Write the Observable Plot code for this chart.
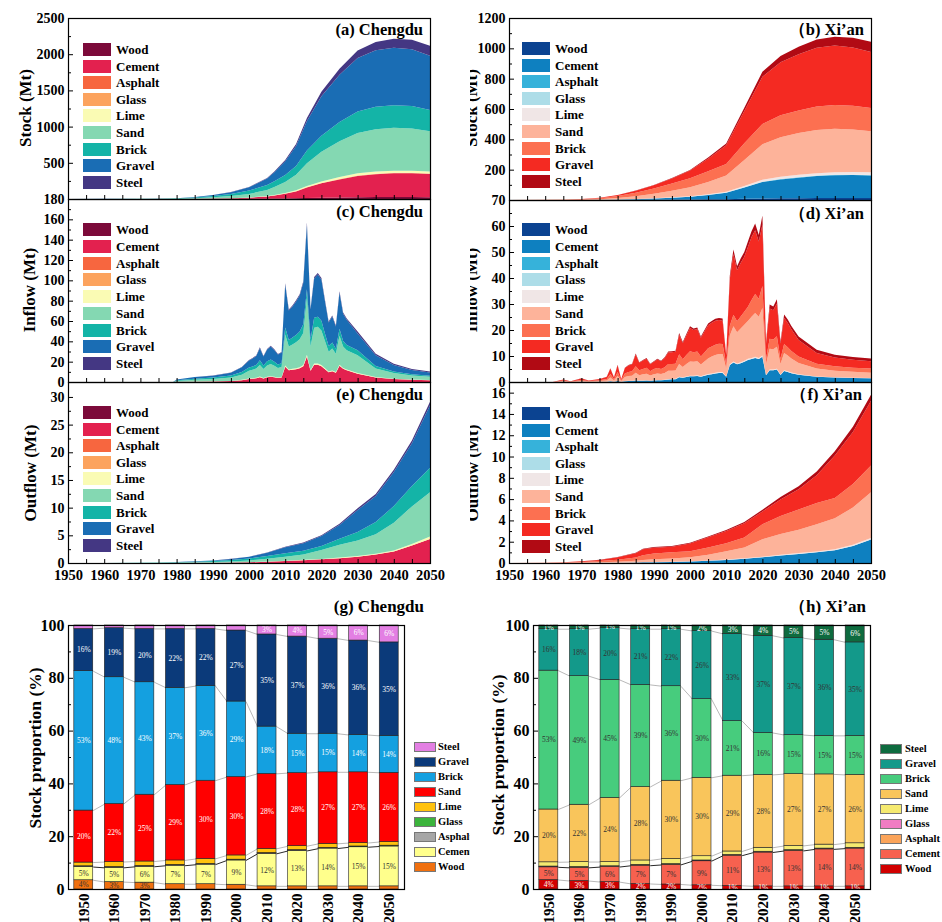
<!DOCTYPE html>
<html><head><meta charset="utf-8">
<script src="https://cdn.jsdelivr.net/npm/d3@7"></script>
<script src="https://cdn.jsdelivr.net/npm/@observablehq/plot@0.6"></script>
<style>
body{margin:0;background:#fff;}
#fig{position:relative;width:942px;height:922px;overflow:hidden;background:#fff;font-family:"Liberation Serif","Times New Roman",serif;font-weight:bold;color:#000;}
</style></head><body><div id="fig"></div>
<script>
// ---------------- categories & colours ----------------
const materials = ["Wood","Cement","Asphalt","Glass","Lime","Sand","Brick","Gravel","Steel"];
const colorsChengduArea = ["#7c0a3a","#e3214f","#f7663f","#fca35e","#fafbb4","#84d8b2","#14b4a7","#1a6db4","#443783"];
const colorsXianArea    = ["#0b4391","#0e80c0","#36b2da","#addde8","#f0e6e6","#fdb39a","#fc7051","#f42a22","#b10a14"];
const colorsChengduBar  = ["#f0700f","#ffff8c","#a6a6a6","#3cb43c","#ffc20e","#ff0000","#14a0e0","#0b3a7a","#e37fe3"];
const colorsXianBar     = ["#d10000","#f7614f","#fba45a","#f07cc3","#f5ea70","#f9c55b","#47cc7d","#13998a","#0e6b3f"];

// ---------------- (a) Chengdu stock, Mt ----------------
const stockYearsC = [1950,1960,1970,1975,1980,1985,1990,1995,2000,2005,2007,2010,2013,2016,2020,2025,2030,2035,2040,2045,2050];
const stockC_Wood    = [0.04,0.06,0.1,0.14,0.24,0.56,1.1,1.8,3.0,4.3,5.2,6.5,9.1,13.4,17.8,21.6,24.6,26.0,26.6,26.4,25.4];
const stockC_Cement  = [0.05,0.11,0.24,0.39,0.84,2.0,4.1,7.8,15.2,31.0,43.6,66.4,96.0,145.5,198.3,249.3,293.2,315.7,327.8,329.0,319.4];
const stockC_Asphalt = [0,0,0.01,0.01,0.02,0.06,0.1,0.2,0.3,0.6,0.8,1.1,1.5,2.2,3.0,3.6,4.1,4.3,4.4,4.4,4.2];
const stockC_Glass   = [0,0,0,0.01,0.01,0.03,0.06,0.1,0.2,0.3,0.4,0.5,0.8,1.1,1.5,1.8,2.1,2.2,2.2,2.2,2.1];
const stockC_Lime    = [0.01,0.04,0.07,0.1,0.2,0.5,1.0,1.7,2.6,4.6,6.1,8.6,11.9,17.2,22.2,27.0,30.8,30.4,28.8,29.7,29.6];
const stockC_Sand    = [0.2,0.44,1.0,1.6,3.4,8.2,16.3,28.2,49.0,84.2,109.1,153.4,214.3,313.0,410.0,493.2,555.6,585.9,593.6,583.0,554.1];
const stockC_Brick   = [0.53,0.96,1.7,2.4,4.4,10.2,19.7,30.6,47.2,67.6,79.2,96.7,123.1,177.0,220.5,266.4,299.3,311.4,312.3,309.1,296.1];
const stockC_Gravel  = [0.16,0.37,0.81,1.3,2.7,6.1,11.9,23.1,44.4,89.0,124.9,188.5,274.4,406.4,544.6,654.3,738.0,779.0,793.0,783.2,748.7];
const stockC_Steel   = [0.01,0.02,0.05,0.08,0.16,0.36,0.7,1.5,3.1,7.7,10.8,18.4,28.7,43.7,62.2,82.8,102.5,115.1,126.3,133.0,135.4];

// ---------------- (b) Xi'an stock, Mt ----------------
const stockYearsX = [1950,1960,1965,1970,1975,1980,1985,1990,1995,2000,2005,2010,2015,2020,2025,2030,2035,2040,2045,2050];
const stockX_Wood    = [0.02,0.06,0.12,0.2,0.37,0.69,1.24,1.88,2.5,3.17,4.2,5.2,7.9,10.2,11.4,12.1,12.7,12.9,12.8,12.5];
const stockX_Cement  = [0.02,0.1,0.21,0.4,0.95,2.28,4.45,7.33,12.1,18.0,28.7,42.5,74.1,108.3,124.5,135.3,144.9,150.6,151.3,149.1];
const stockX_Asphalt = [0,0,0.01,0.01,0.03,0.07,0.12,0.2,0.3,0.4,0.6,0.7,1.2,1.7,1.9,2.0,2.1,2.2,2.1,2.1];
const stockX_Glass   = [0,0,0,0.01,0.02,0.03,0.06,0.1,0.15,0.2,0.3,0.4,0.6,0.8,1.0,1.0,1.1,1.1,1.1,1.0];
const stockX_Lime    = [0.01,0.04,0.07,0.11,0.25,0.56,1.15,1.98,2.6,3.17,4.06,4.85,8.5,12.7,14.7,16.2,16.4,16.1,17.1,17.7];
const stockX_Sand    = [0.1,0.43,0.92,1.7,3.9,9.17,17.7,29.3,43.0,58.8,81.6,107.1,171.4,233.5,260.3,274.7,284.6,286.2,280.1,270.1];
const stockX_Brick   = [0.26,0.97,1.87,3.13,6.2,12.77,23.1,35.4,47.5,59.0,70.8,77.2,110.4,134.5,145.4,149.5,155.5,157.1,157.7,154.4];
const stockX_Gravel  = [0.08,0.36,0.75,1.37,3.06,6.96,13.2,21.4,34.4,51.1,82.4,123.1,212.9,311.3,348.7,370.7,386.2,391.7,383.8,369.2];
const stockX_Steel   = [0.01,0.03,0.05,0.07,0.19,0.46,0.87,1.39,2.5,4.16,7.4,11.9,21.4,33.0,41.8,48.5,54.5,58.1,63.1,66.8];

// ---------------- (c) Chengdu inflow, Mt ----------------
const inYearsC = [1950,1979,1980,1985,1990,1995,1998,2000,2001,2002,2003,2004,2005,2006,2007,2008,2009,2010,2011,2012,2013,2014,2015,2016,2017,2018,2019,2020,2021,2022,2023,2024,2025,2026,2027,2030,2035,2040,2045,2050];
const inC_Cement = [0,0,0.15,0.3,0.5,0.9,1.8,3.0,3.3,3.7,4.7,3.5,4.6,5.1,4.6,4.0,4.4,15.0,11.5,12.0,12.5,13.5,15.5,25.0,11.0,17.0,17.0,15.5,12.5,9.5,10.5,9.0,16.0,13.0,11.5,8.2,4.5,3.0,2.2,1.8];
const inC_Lime   = [0,0,0.05,0.1,0.12,0.2,0.3,0.4,0.45,0.5,0.6,0.5,0.6,0.65,0.6,0.5,0.55,1.2,0.9,1.0,1.0,1.1,1.2,1.8,0.9,1.3,1.3,1.2,1.0,0.8,0.85,0.75,1.0,0.85,0.8,0.6,0.35,0.25,0.2,0.15];
const inC_Sand   = [0,0,0.9,1.8,2.3,3.3,5.0,7.6,8.2,9.0,11.5,8.8,11.0,12.0,10.8,9.2,9.8,30.5,22.5,24.0,25.5,27.5,31.5,56.0,23.0,35.0,36.0,34.0,26.5,19.5,21.5,18.0,28.5,21.0,19.0,17.5,8.5,5.5,4.0,3.2];
const inC_Brick  = [0,0,0.55,1.1,1.4,1.9,2.7,3.2,3.4,3.6,4.5,3.4,4.2,4.5,4.0,3.4,3.6,7.0,6.5,6.8,7.2,7.6,8.5,8.5,7.0,10.0,10.0,9.5,7.5,5.5,6.0,5.0,7.0,5.5,5.0,5.0,2.5,1.7,1.2,1.0];
const inC_Gravel = [0,0,0.75,1.5,1.9,2.8,4.6,7.0,7.8,8.8,12.0,8.9,11.5,12.6,11.5,10.0,10.7,42.0,29.0,30.5,33.0,35.3,41.0,63.0,29.5,38.5,41.5,40.5,31.7,23.3,25.6,21.9,35.2,26.8,25.0,16.3,10.4,6.2,4.3,3.3];
const inC_Steel  = [0,0,0.05,0.09,0.16,0.22,0.36,0.44,0.48,0.53,0.76,0.53,0.66,0.71,0.62,0.53,0.58,1.47,0.94,1.04,1.14,1.27,1.49,2.6,0.94,1.37,1.37,1.49,1.14,0.87,0.96,0.83,1.56,1.25,1.16,2.0,1.5,1.2,1.0,0.9];

// ---------------- (d) Xi'an inflow, Mt ----------------
const inYearsX = [1950,1962,1965,1967,1970,1972,1975,1977,1978,1979,1980,1981,1982,1983,1984,1985,1986,1987,1988,1989,1990,1991,1992,1993,1994,1995,1996,1997,1998,1999,2000,2001,2002,2003,2004,2005,2006,2007,2008,2009,2010,2011,2012,2013,2014,2015,2016,2017,2018,2019,2020,2021,2022,2023,2024,2025,2026,2027,2028,2030,2035,2040,2045,2050];
const inX_Cement = [0,0,0.05,0.02,0.07,0.03,0.06,0.1, 0.3,0.1,0.4,0.07,0.33,0.4,0.42,0.6,0.45,0.5,0.55,0.45, 0.6,0.7,0.65,0.8,1.0,1.05,1.1,1.8,1.6,1.9, 2.2,2.2,2.3,2.0,2.4,2.8,3.0,3.3,3.5,3.5, 2.0,6.5,7.5,6.8,7.2,7.8,8.5,8.8,9.2,8.8, 9.7,2.6,4.5,4.5,4.8,2.7,4.2,3.8,3.4, 2.8,2.0,1.7,1.55,1.45];
const inX_Lime   = [0,0,0.01,0,0.01,0.01,0.01,0.02, 0.05,0.02,0.07,0.01,0.06,0.07,0.07,0.1,0.08,0.09,0.09,0.07, 0.08,0.09,0.08,0.1,0.12,0.12,0.12,0.2,0.18,0.2, 0.25,0.25,0.25,0.22,0.25,0.28,0.3,0.3,0.3,0.3, 0.15,0.35,0.4,0.35,0.4,0.4,0.45,0.45,0.5,0.45, 0.5,0.2,0.3,0.3,0.3,0.2,0.3,0.3,0.25, 0.2,0.15,0.12,0.12,0.1];
const inX_Sand   = [0,0,0.25,0.08,0.35,0.15,0.3,0.5, 1.4,0.5,1.8,0.33,1.5,1.8,1.95,2.9,2.1,2.35,2.55,1.95, 2.3,2.5,2.3,2.6,3.2,3.2,3.2,4.9,4.0,4.8, 5.45,5.3,5.4,4.5,5.2,6.0,6.5,6.8,7.0,7.0, 2.9,11.0,13.5,12.0,13.0,13.8,14.5,15.8,16.8,15.8, 18.3,4.0,8.0,7.8,8.5,4.0,6.7,6.1,5.4, 4.3,3.0,2.5,2.25,2.0];
const inX_Brick  = [0,0,0.25,0.08,0.35,0.15,0.3,0.5, 1.3,0.45,1.6,0.3,1.35,1.6,1.7,2.5,1.9,2.1,2.25,1.7, 2.0,2.1,1.95,2.2,2.6,2.6,2.6,3.8,3.0,3.5, 3.9,3.7,3.8,3.1,3.5,3.9,3.9,3.9,3.9,3.8, 1.9,3.8,4.5,4.2,4.6,5.0,5.5,6.5,7.3,7.0, 8.4,2.0,3.8,3.7,4.0,2.0,3.4,3.2,2.9, 2.5,1.9,1.7,1.6,1.6];
const inX_Gravel = [0,0,0.41,0.11,0.57,0.24,0.49,0.82, 2.1,0.68,2.53,0.45,2.1,2.43,2.65,4.5,2.85,3.2,3.5,2.63, 2.8,3.25,3.0,3.5,4.43,4.48,4.6,7.5,6.1,7.5, 9.0,8.55,8.65,7.18,8.05,8.82,9.1,9.25,9.1,9.0, 3.25,18.0,23.3,19.6,20.6,21.2,23.0,24.2,24.6,21.95, 23.6,5.9,11.7,11.3,12.6,5.9,10.1,9.3,8.35, 6.4,4.15,3.38,3.03,2.85];
const inX_Steel  = [0,0,0.03,0.01,0.05,0.02,0.04,0.06, 0.15,0.05,0.2,0.04,0.16,0.2,0.21,0.4,0.22,0.26,0.26,0.2, 0.22,0.26,0.22,0.3,0.35,0.35,0.38,0.6,0.52,0.6, 0.6,0.6,0.6,0.5,0.6,0.7,0.7,0.75,0.8,0.8, 0.3,1.35,1.8,1.55,1.7,1.8,2.05,2.25,2.6,2.5, 3.5,0.8,1.5,1.4,1.6,0.8,1.3,1.3,1.2, 1.3,1.2,1.1,1.05,1.0];

// ---------------- (e) Chengdu outflow, Mt ----------------
const outYearsC = [1950,1960,1970,1975,1980,1985,1990,1995,2000,2005,2010,2015,2020,2025,2030,2035,2040,2045,2050];
const outC_Cement = [0,0,0.005,0.009,0.018,0.028,0.04,0.075,0.12,0.23,0.36,0.5,0.66,0.88,1.15,1.53,2.08,3.15,4.35];
const outC_Lime   = [0,0,0.001,0.002,0.004,0.006,0.009,0.015,0.025,0.04,0.06,0.07,0.08,0.1,0.13,0.16,0.2,0.28,0.45];
const outC_Sand   = [0,0.003,0.012,0.025,0.05,0.08,0.12,0.2,0.3,0.5,0.72,0.95,1.6,2.3,2.8,3.5,5.0,6.8,8.0];
const outC_Brick  = [0,0.005,0.022,0.045,0.085,0.12,0.17,0.26,0.35,0.5,0.62,0.7,0.75,1.1,1.5,2.2,3.0,3.7,4.4];
const outC_Gravel = [0,0.002,0.009,0.018,0.04,0.06,0.1,0.18,0.32,0.57,1.1,1.35,1.8,2.5,3.99,4.72,6.18,7.71,11.3];
const outC_Steel  = [0,0,0.001,0.001,0.003,0.005,0.01,0.017,0.031,0.053,0.08,0.118,0.145,0.198,0.3,0.35,0.4,0.5,0.62];

// ---------------- (f) Xi'an outflow, Mt ----------------
const outYearsX = [1950,1960,1965,1970,1975,1980,1985,1987,1990,1995,2000,2005,2010,2015,2020,2025,2030,2035,2040,2045,2050];
const outX_Cement = [0,0,0.003,0.006,0.012,0.025,0.045,0.06,0.08,0.1,0.14,0.2,0.28,0.4,0.53,0.7,0.85,1.0,1.2,1.6,2.2];
const outX_Lime   = [0,0,0.001,0.002,0.004,0.006,0.01,0.013,0.015,0.016,0.02,0.03,0.04,0.05,0.06,0.07,0.08,0.09,0.1,0.11,0.15];
const outX_Sand   = [0,0.006,0.016,0.03,0.055,0.09,0.16,0.22,0.25,0.3,0.38,0.55,0.78,1.0,1.65,1.95,2.2,2.55,2.9,3.5,4.3];
const outX_Brick  = [0,0.012,0.03,0.06,0.11,0.18,0.31,0.43,0.55,0.6,0.56,0.68,0.75,0.95,1.4,1.7,1.9,2.0,1.9,2.2,2.5];
const outX_Gravel = [0,0.01,0.026,0.055,0.105,0.23,0.4,0.56,0.54,0.52,0.73,0.95,1.15,1.33,1.2,1.55,1.9,2.6,4.0,4.9,6.1];
const outX_Steel  = [0,0.002,0.004,0.007,0.014,0.029,0.045,0.067,0.065,0.064,0.07,0.09,0.1,0.12,0.16,0.23,0.27,0.36,0.4,0.49,0.55];

// ---------------- (g)/(h) stock proportion, % ----------------
const barYears = [1950,1960,1970,1980,1990,2000,2010,2020,2030,2040,2050];
const propC_Wood    = [3.5,2.8,2.6,2.0,2.0,1.8,1.2,1.2,1.2,1.2,1.2];
const propC_Cement  = [5.0,5.4,6.0,7.0,7.4,9.2,12.3,13.4,14.3,14.8,15.1];
const propC_Asphalt = [0.2,0.2,0.2,0.2,0.2,0.2,0.2,0.2,0.2,0.2,0.2];
const propC_Glass   = [0.1,0.1,0.1,0.1,0.1,0.1,0.1,0.1,0.1,0.1,0.1];
const propC_Lime    = [1.4,1.9,1.7,1.7,1.9,1.6,1.6,1.5,1.5,1.3,1.4];
const propC_Sand    = [19.7,22.0,25.3,28.6,29.6,29.7,28.4,27.7,27.1,26.8,26.2];
const propC_Brick   = [52.8,48.0,42.6,36.8,35.9,28.6,17.9,14.9,14.6,14.1,14.0];
const propC_Gravel  = [16.0,18.6,20.2,22.3,21.6,26.9,34.9,36.8,36.0,35.8,35.4];
const propC_Steel   = [1.3,1.0,1.3,1.3,1.3,1.9,3.4,4.2,5.0,5.7,6.4];

const propX_Wood    = [3.6,3.2,2.8,2.1,1.9,1.6,1.4,1.2,1.2,1.2,1.2];
const propX_Cement  = [4.8,5.0,5.7,6.9,7.4,9.1,11.4,12.8,13.4,14.0,14.3];
const propX_Asphalt = [0.2,0.2,0.2,0.2,0.2,0.2,0.2,0.2,0.2,0.2,0.2];
const propX_Glass   = [0.1,0.1,0.1,0.1,0.1,0.1,0.1,0.1,0.1,0.1,0.1];
const propX_Lime    = [1.6,1.9,1.6,1.7,2.0,1.6,1.3,1.5,1.6,1.5,1.7];
const propX_Sand    = [20.0,21.7,24.3,27.8,29.6,29.7,28.7,27.6,27.2,26.6,25.9];
const propX_Brick   = [52.6,48.7,44.7,38.7,35.8,29.8,20.7,15.9,14.8,14.6,14.8];
const propX_Gravel  = [15.7,17.8,19.6,21.1,21.6,25.8,33.0,36.8,36.7,36.4,35.4];
const propX_Steel   = [1.4,1.4,1.0,1.4,1.4,2.1,3.2,3.9,4.8,5.4,6.4];

// ---------------- helpers ----------------
const FONT = "'Liberation Serif','Times New Roman',serif";
const fig = document.getElementById("fig");
function mkDiv(parent, l, t, w, h) {
  const d = document.createElement("div");
  d.style.cssText = `position:absolute;left:${l}px;top:${t}px;width:${w}px;height:${h}px;overflow:hidden;`;
  parent.appendChild(d); return d;
}
const leftCol = mkDiv(fig, 0, 0, 470, 922);
const rightCol = mkDiv(fig, 470, 0, 472, 922);

function place(parent, node, l, t) {
  node.style.position = "absolute"; node.style.left = l + "px"; node.style.top = t + "px";
  node.style.maxWidth = "none"; node.style.background = "none"; node.style.overflow = "visible";
  parent.appendChild(node);
}
function text(parent, str, o) {
  const d = document.createElement("div");
  d.textContent = str;
  d.style.cssText = `position:absolute;white-space:nowrap;font-weight:bold;line-height:1;font-size:${o.size}px;`;
  if (o.rotate) {
    d.style.left = o.cx + "px"; d.style.top = o.cy + "px";
    d.style.transform = "translate(-50%,-50%) rotate(-90deg)";
  } else {
    d.style.right = (o.containerW - o.right) + "px"; d.style.top = (o.cy - o.size / 2) + "px";
  }
  parent.appendChild(d);
}
function legend(parent, names, colors, o) {
  names.forEach((n, i) => {
    const top = o.y0 + i * o.dy;
    const s = document.createElement("div");
    s.style.cssText = `position:absolute;left:${o.x}px;top:${top}px;width:${o.sw}px;height:${o.sh}px;background:${colors[i]};box-sizing:border-box;${o.border ? "border:1px solid #777;" : ""}`;
    parent.appendChild(s);
    const t = document.createElement("div");
    t.textContent = n;
    t.style.cssText = `position:absolute;left:${o.x + o.tx}px;top:${top + o.sh / 2 - o.fs / 2}px;font-size:${o.fs}px;line-height:1;font-weight:bold;white-space:nowrap;`;
    parent.appendChild(t);
  });
}

function areaPanel(parent, cfg) {
  const {years, series, colors, frameL, frameT, frameW, frameH, yDomain, yTicks, yMinor, showX} = cfg;
  const present = materials.filter(m => series[m]);
  const data = [];
  present.forEach(m => series[m].forEach((v, j) => data.push({year: years[j], value: v, material: m})));
  const mL = 60, mT = 12, mR = 14, mB = showX ? 30 : 12;
  const marks = [
    Plot.areaY(data, {x: "year", y: "value", fill: "material", order: present, curve: "linear"}),
    Plot.tickY(yTicks, {y: d => d, insetRight: frameW - 5, stroke: "black"}),
    Plot.tickY(yMinor, {y: d => d, insetRight: frameW - 3, stroke: "black"}),
    Plot.tickX(d3.range(1955, 2050, 5), {x: d => d, insetTop: frameH - 4, stroke: "black"}),
    Plot.axisY({ticks: yTicks, tickSize: 0, tickPadding: 4, label: null, tickFormat: d => String(d)}),
    Plot.frame({stroke: "black", strokeWidth: 1.2})
  ];
  if (showX) marks.push(Plot.axisX({ticks: d3.range(1950, 2051, 10), tickSize: 0, tickPadding: 6, label: null, tickFormat: d => String(d), fontSize: 14.5}));
  const svg = Plot.plot({
    width: frameW + mL + mR, height: frameH + mT + mB,
    marginLeft: mL, marginRight: mR, marginTop: mT, marginBottom: mB,
    x: showX ? {domain: [1950, 2050]} : {domain: [1950, 2050], axis: null},
    y: {domain: yDomain},
    color: {domain: materials, range: colors},
    style: {fontFamily: FONT, fontSize: "14px", fontWeight: "bold", background: "none", overflow: "visible"},
    marks
  });
  place(parent, svg, frameL - mL, frameT - mT);
}

function barPanel(parent, cfg) {
  const {vals, colors, frameL, frameT, frameW, frameH, labelRule, whiteMats} = cfg;
  const hw = 3.1;
  const segs = [], cum = {};
  barYears.forEach((yr, j) => {
    let acc = 0;
    materials.forEach(m => {
      const v = vals[m][j];
      segs.push({year: yr, material: m, y1: acc, y2: acc + v, value: v});
      acc += v;
      (cum[m] = cum[m] || [])[j] = acc;
    });
  });
  const links = [];
  ["Wood","Cement","Lime","Sand","Brick","Gravel"].forEach(m => {
    for (let j = 0; j < barYears.length - 1; j++)
      links.push({m, x1: barYears[j] + hw, x2: barYears[j + 1] - hw, y1: cum[m][j], y2: cum[m][j + 1]});
  });
  const labels = segs.filter(labelRule);
  const mL = 60, mT = 10, mR = 10, mB = 45;
  const svg = Plot.plot({
    width: frameW + mL + mR, height: frameH + mT + mB,
    marginLeft: mL, marginRight: mR, marginTop: mT, marginBottom: mB,
    x: {domain: [1945, 2055]},
    y: {domain: [0, 100]},
    color: {domain: materials, range: colors},
    style: {fontFamily: FONT, fontSize: "16px", fontWeight: "bold", background: "none", overflow: "visible"},
    marks: [
      Plot.link(links.filter(d => d.m !== "Cement"), {x1: "x1", y1: "y1", x2: "x2", y2: "y2", stroke: "#9a9a9a", strokeWidth: 0.7}),
      Plot.link(links.filter(d => d.m === "Cement"), {x1: "x1", y1: "y1", x2: "x2", y2: "y2", stroke: "#111", strokeWidth: 0.9}),
      Plot.rect(segs, {x1: d => d.year - hw, x2: d => d.year + hw, y1: "y1", y2: "y2", fill: "material", stroke: "#222", strokeWidth: 0.6}),
      Plot.text(labels.filter(d => whiteMats.includes(d.material)), {x: "year", y: d => (d.y1 + d.y2) / 2, text: d => Math.round(d.value) + "%", fill: "white", fontSize: 7.5, fontWeight: "normal"}),
      Plot.text(labels.filter(d => !whiteMats.includes(d.material)), {x: "year", y: d => (d.y1 + d.y2) / 2, text: d => Math.round(d.value) + "%", fill: "#333", fontSize: 7.5, fontWeight: "normal"}),
      Plot.tickY([20, 40, 60, 80], {y: d => d, insetRight: frameW - 5, stroke: "black"}),
      Plot.tickY([10, 30, 50, 70, 90], {y: d => d, insetRight: frameW - 3, stroke: "black"}),
      Plot.axisY({ticks: [0, 20, 40, 60, 80, 100], tickSize: 0, tickPadding: 4, label: null, tickFormat: d => String(d), fontSize: 16}),
      Plot.axisX({ticks: barYears, tickRotate: -90, tickSize: 0, tickPadding: 4, label: null, tickFormat: d => String(d), fontSize: 15}),
      Plot.frame({stroke: "black", strokeWidth: 1.2})
    ]
  });
  place(parent, svg, frameL - mL, frameT - mT);
}

// ---------------- left column: Chengdu ----------------
areaPanel(leftCol, {years: stockYearsC, colors: colorsChengduArea,
  series: {Wood: stockC_Wood, Cement: stockC_Cement, Asphalt: stockC_Asphalt, Glass: stockC_Glass, Lime: stockC_Lime, Sand: stockC_Sand, Brick: stockC_Brick, Gravel: stockC_Gravel, Steel: stockC_Steel},
  frameL: 68, frameT: 18, frameW: 362, frameH: 181, yDomain: [0, 2500],
  yTicks: [500, 1000, 1500, 2000, 2500], yMinor: [250, 750, 1250, 1750, 2250], showX: false});
areaPanel(leftCol, {years: inYearsC, colors: colorsChengduArea,
  series: {Cement: inC_Cement, Lime: inC_Lime, Sand: inC_Sand, Brick: inC_Brick, Gravel: inC_Gravel, Steel: inC_Steel},
  frameL: 68, frameT: 199, frameW: 362, frameH: 183, yDomain: [0, 180],
  yTicks: d3.range(0, 181, 20), yMinor: d3.range(10, 180, 20), showX: false});
areaPanel(leftCol, {years: outYearsC, colors: colorsChengduArea,
  series: {Cement: outC_Cement, Lime: outC_Lime, Sand: outC_Sand, Brick: outC_Brick, Gravel: outC_Gravel, Steel: outC_Steel},
  frameL: 68, frameT: 382, frameW: 362, frameH: 181, yDomain: [0, 32.7],
  yTicks: [0, 5, 10, 15, 20, 25, 30], yMinor: [2.5, 7.5, 12.5, 17.5, 22.5, 27.5], showX: true});

// ---------------- right column: Xi'an ----------------
areaPanel(rightCol, {years: stockYearsX, colors: colorsXianArea,
  series: {Wood: stockX_Wood, Cement: stockX_Cement, Asphalt: stockX_Asphalt, Glass: stockX_Glass, Lime: stockX_Lime, Sand: stockX_Sand, Brick: stockX_Brick, Gravel: stockX_Gravel, Steel: stockX_Steel},
  frameL: 39, frameT: 18, frameW: 362, frameH: 182, yDomain: [0, 1200],
  yTicks: [200, 400, 600, 800, 1000, 1200], yMinor: [100, 300, 500, 700, 900, 1100], showX: false});
areaPanel(rightCol, {years: inYearsX, colors: colorsXianArea,
  series: {Cement: inX_Cement, Lime: inX_Lime, Sand: inX_Sand, Brick: inX_Brick, Gravel: inX_Gravel, Steel: inX_Steel},
  frameL: 39, frameT: 200, frameW: 362, frameH: 182, yDomain: [0, 70],
  yTicks: d3.range(0, 71, 10), yMinor: d3.range(5, 70, 10), showX: false});
areaPanel(rightCol, {years: outYearsX, colors: colorsXianArea,
  series: {Cement: outX_Cement, Lime: outX_Lime, Sand: outX_Sand, Brick: outX_Brick, Gravel: outX_Gravel, Steel: outX_Steel},
  frameL: 39, frameT: 382, frameW: 362, frameH: 181, yDomain: [0, 17],
  yTicks: d3.range(0, 17, 2), yMinor: d3.range(1, 17, 2), showX: true});

// ---------------- bar panels ----------------
const whiteC = ["Sand", "Brick", "Gravel", "Steel"];
barPanel(leftCol, {colors: colorsChengduBar,
  vals: {Wood: propC_Wood, Cement: propC_Cement, Asphalt: propC_Asphalt, Glass: propC_Glass, Lime: propC_Lime, Sand: propC_Sand, Brick: propC_Brick, Gravel: propC_Gravel, Steel: propC_Steel},
  frameL: 68, frameT: 625, frameW: 336, frameH: 264,
  labelRule: d => ["Cement", "Sand", "Brick", "Gravel"].includes(d.material) || ((d.material === "Wood" || d.material === "Steel") && d.value >= 2.5),
  whiteMats: whiteC});
barPanel(rightCol, {colors: colorsXianBar,
  vals: {Wood: propX_Wood, Cement: propX_Cement, Asphalt: propX_Asphalt, Glass: propX_Glass, Lime: propX_Lime, Sand: propX_Sand, Brick: propX_Brick, Gravel: propX_Gravel, Steel: propX_Steel},
  frameL: 63, frameT: 625, frameW: 337, frameH: 264,
  labelRule: d => ["Wood", "Cement", "Sand", "Brick", "Gravel", "Steel"].includes(d.material),
  whiteMats: ["Wood", "Steel"]});

// ---------------- titles ----------------
text(leftCol, "(a) Chengdu", {size: 16.5, right: 423, cy: 30, containerW: 470});
text(leftCol, "(c) Chengdu", {size: 16.5, right: 423, cy: 212, containerW: 470});
text(leftCol, "(e) Chengdu", {size: 16.5, right: 423, cy: 395, containerW: 470});
text(leftCol, "(g) Chengdu", {size: 17, right: 424, cy: 606, containerW: 470});
text(rightCol, "（b) Xi’an", {size: 16.5, right: 394, cy: 30, containerW: 472});
text(rightCol, "（d) Xi’an", {size: 16.5, right: 394, cy: 214, containerW: 472});
text(rightCol, "（f) Xi’an", {size: 16.5, right: 392, cy: 395, containerW: 472});
text(rightCol, "（h) Xi’an", {size: 17, right: 396, cy: 606, containerW: 472});

text(leftCol, "Stock  (Mt)", {size: 17, rotate: true, cx: 25, cy: 108});
text(leftCol, "Inflow (Mt)", {size: 17, rotate: true, cx: 29, cy: 290});
text(leftCol, "Outflow  (Mt)", {size: 17, rotate: true, cx: 30, cy: 473});
text(leftCol, "Stock proportion (%)", {size: 17.5, rotate: true, cx: 36, cy: 748});
text(rightCol, "Stock (Mt)", {size: 17, rotate: true, cx: 1, cy: 108});
text(rightCol, "Inflow  (Mt)", {size: 17, rotate: true, cx: 1, cy: 290});
text(rightCol, "Outflow (Mt)", {size: 17, rotate: true, cx: 2, cy: 473});
text(rightCol, "Stock proportion (%)", {size: 17.5, rotate: true, cx: 29, cy: 755});

// ---------------- legends ----------------
const areaLeg = (parent, colors, x, y0, dy) => legend(parent, materials, colors, {x, y0, dy, sw: 28, sh: 13, tx: 33, fs: 13});
areaLeg(leftCol, colorsChengduArea, 83, 43, 16.6);
areaLeg(leftCol, colorsChengduArea, 83, 223, 16.75);
areaLeg(leftCol, colorsChengduArea, 83, 406, 16.6);
areaLeg(rightCol, colorsXianArea, 52, 42, 16.6);
areaLeg(rightCol, colorsXianArea, 52, 223, 16.75);
areaLeg(rightCol, colorsXianArea, 52, 407, 16.6);

const revMats = materials.slice().reverse();
legend(leftCol, revMats, colorsChengduBar.slice().reverse(), {x: 414, y0: 742, dy: 15, sw: 22, sh: 10, tx: 24, fs: 10.5, border: true});
legend(rightCol, revMats, colorsXianBar.slice().reverse(), {x: 410, y0: 744, dy: 15, sw: 22, sh: 10, tx: 25, fs: 10.5, border: true});
</script></body></html>
